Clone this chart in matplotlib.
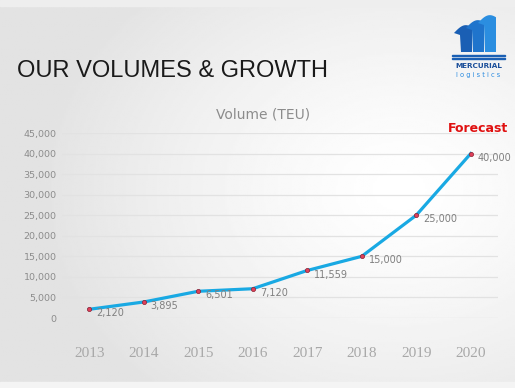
#!/usr/bin/env python3
"""Volume (TEU) line chart — recreated slide"""
import numpy as np
import matplotlib
matplotlib.use("Agg")
import matplotlib.pyplot as plt
from matplotlib.patches import Polygon, Rectangle

years = ['2013', '2014', '2015', '2016', '2017', '2018', '2019', '2020']
volumes = [2120, 3895, 6501, 7120, 11559, 15000, 25000, 40000]
y_ticks = [0, 5000, 10000, 15000, 20000, 25000, 30000, 35000, 40000, 45000]

W, H = 515, 388
fig = plt.figure(figsize=(W / 100, H / 100), dpi=100)

# ── background: soft gray with bright spot on the right ─────────────
bg = fig.add_axes([0, 0, 1, 1])
gx, gy = np.meshgrid(np.linspace(0, W, 260), np.linspace(0, H, 200))
d = np.sqrt(((gx - 400) / 360) ** 2 + ((gy - 190) / 280) ** 2)
shade = np.clip(1.0 - 0.11 * d ** 1.3, 0.89, 1.0)
bg.imshow(shade, cmap='gray', vmin=0, vmax=1, extent=[0, W, H, 0], aspect='auto')
bg.add_patch(Rectangle((0, 0), W, 6, color='#eeeeee'))
bg.add_patch(Rectangle((0, 382), W, 6, color='#f4f4f4'))
bg.set_xlim(0, W)
bg.set_ylim(H, 0)
bg.axis('off')

# title
bg.text(17, 71, 'OUR VOLUMES & GROWTH', fontsize=17, color='#1a1a1a',
        family='Liberation Sans', va='center', ha='left')

# ── logo ─────────────────────────────────────────────
fin_cols = ['#1a5fb4', '#1f74cc', '#2b8ee0']
for i in range(3):
    x0 = 457 + i * 12
    top = 27 - i * 5
    t = np.linspace(0, 1, 16)
    # curved top edge (hook on the left), straight sides down to the base
    top_x = x0 - 3 + t * 18
    top_y = top + 6 * (1 - np.sin(t * np.pi * 0.85)) - 3 * t
    pts = list(zip(top_x, top_y)) + [(x0 + 15, 52), (x0 + 4, 52), (x0 + 3, top + 8)]
    bg.add_patch(Polygon(pts, closed=True, color=fin_cols[i], lw=0))
bg.add_patch(Rectangle((452, 54.5), 53, 1.6, color='#1a5fb4'))
bg.add_patch(Rectangle((452, 57.5), 53, 1.0, color='#1a5fb4'))
bg.text(478.5, 66, 'MERCURIAL', fontsize=5.2, fontweight='bold', color='#1b4f9a',
        ha='center', va='center', family='DejaVu Sans')
bg.text(478.5, 74.5, 'l o g i s t i c s', fontsize=4.8, color='#2a8be0',
        ha='center', va='center', family='DejaVu Sans')

# ── chart ────────────────────────────────────────────
ax = fig.add_axes([62 / W, 1 - 318 / H, (498 - 62) / W, (318 - 133) / H])
ax.patch.set_alpha(0)
x = np.arange(len(years))
ax.plot(x, volumes, color='#19a9e3', lw=2.3, solid_joinstyle='round', zorder=3)
ax.scatter(x, volumes, s=9, color='#e0405a', edgecolor='#8a2030', lw=0.5, zorder=4)
for xi, v in zip(x, volumes):
    ax.annotate(f'{v:,}', (xi, v), xytext=(5, -3), textcoords='offset points',
                ha='left', va='center', fontsize=7, color='#7f7f7f')

ax.set_xlim(-0.5, len(years) - 0.5)
ax.set_ylim(0, 45000)
ax.set_yticks(y_ticks)
ax.set_yticklabels([f'{t:,}' for t in y_ticks], fontsize=6.8, color='#8c8c8c')
ax.set_xticks(x)
ax.set_xticklabels(years, fontsize=11, color='#a8a8a8', family='Liberation Serif')
ax.tick_params(axis='both', length=0)
ax.tick_params(axis='x', pad=21)
ax.tick_params(axis='y', pad=4)
ax.grid(axis='y', color='#e2e2e2', lw=0.9)
ax.set_axisbelow(True)
for s in ax.spines.values():
    s.set_visible(False)

bg.text(263, 115, 'Volume (TEU)', fontsize=10, color='#8c8c8c', ha='center', va='center')
bg.text(508, 128, 'Forecast', fontsize=9, color='#e01010', fontweight='bold',
        ha='right', va='center')

fig.savefig('out.png', dpi=100)
